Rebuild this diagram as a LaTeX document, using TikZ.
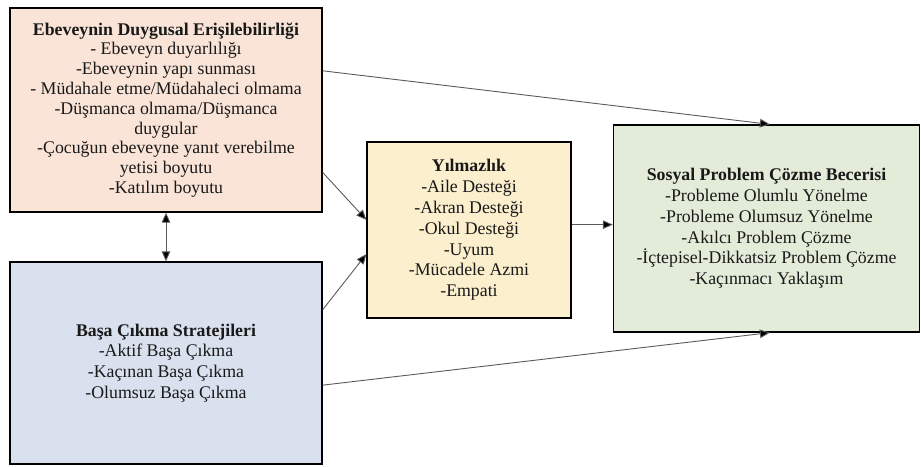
\documentclass[tikz,border=0pt]{standalone}
\usepackage{fontspec}
\setmainfont{Liberation Serif}
\usetikzlibrary{calc,arrows.meta}
\definecolor{peach}{HTML}{F9E4D7}
\definecolor{bluegray}{HTML}{DAE1EE}
\definecolor{cream}{HTML}{FCEFCE}
\definecolor{sage}{HTML}{E3EBD9}
\definecolor{conn}{HTML}{5A5A5A}
\tikzset{
  box/.style={draw=black, line width=1.3pt, align=center, inner sep=0pt,
    font=\fontsize{17.8}{20.8}\selectfont, text=black!90},
  tip/.tip={Triangle[length=10pt,width=8.5pt,fill=black]},
  link/.style={draw=conn, line width=0.9pt, -tip},
  dlink/.style={draw=conn, line width=0.9pt, tip-tip}
}
\begin{document}
\begin{tikzpicture}[x=1pt,y=-1pt]
\useasboundingbox (0,0) rectangle (921,466);
\node[box, fill=peach, minimum width=312pt, minimum height=204pt, font=\fontsize{17.8}{19.8}\selectfont] (b1) at (166,110)
 {\textbf{Ebeveynin Duygusal Erişilebilirliği}\\- Ebeveyn duyarlılığı\\-Ebeveynin yapı sunması\\- Müdahale etme/Müdahaleci olmama\\-Düşmanca olmama/Düşmanca\\duygular\\-Çocuğun ebeveyne yanıt verebilme\\yetisi boyutu\\-Katılım boyutu};
\node[box, fill=bluegray, minimum width=312pt, minimum height=202pt] (b2) at (166,363)
 {\textbf{Başa Çıkma Stratejileri}\\-Aktif Başa Çıkma\\-Kaçınan Başa Çıkma\\-Olumsuz Başa Çıkma};
\node[box, fill=cream, minimum width=204pt, minimum height=176pt] (b3) at (469,230)
 {\textbf{Yılmazlık}\\-Aile Desteği\\-Akran Desteği\\-Okul Desteği\\-Uyum\\-Mücadele Azmi\\-Empati};
\node[box, fill=sage, minimum width=306pt, minimum height=207pt] (b4) at (766.5,228.5)
 {\textbf{Sosyal Problem Çözme Becerisi}\\-Probleme Olumlu Yönelme\\-Probleme Olumsuz Yönelme\\-Akılcı Problem Çözme\\-İçtepisel-Dikkatsiz Problem Çözme\\-Kaçınmacı Yaklaşım};
\coordinate (p1) at ($(b1.north east)!0.309!(b1.south east)$);
\coordinate (p2) at ($(b1.north east)!0.804!(b1.south east)$);
\coordinate (p3) at ($(b2.north east)!0.238!(b2.south east)$);
\coordinate (p4) at ($(b2.north east)!0.609!(b2.south east)$);
\coordinate (q1) at ($(b3.north west)!0.443!(b3.south west)$);
\coordinate (q2) at ($(b3.north west)!0.636!(b3.south west)$);
\coordinate (q3) at ($(b3.north east)!0.47!(b3.south east)$);
\coordinate (r1) at ($(b4.north west)!0.511!(b4.north east)$);
\coordinate (r2) at ($(b4.south west)!0.511!(b4.south east)$);
\draw[link] (p1) -- (r1);
\draw[link] (p2) -- (q1);
\draw[link] (p3) -- (q2);
\draw[link] (p4) -- (r2);
\draw[link] (q3) -- (b4.west |- q3);
\draw[dlink] (b1.south) -- (b2.north);
\end{tikzpicture}
\end{document}
